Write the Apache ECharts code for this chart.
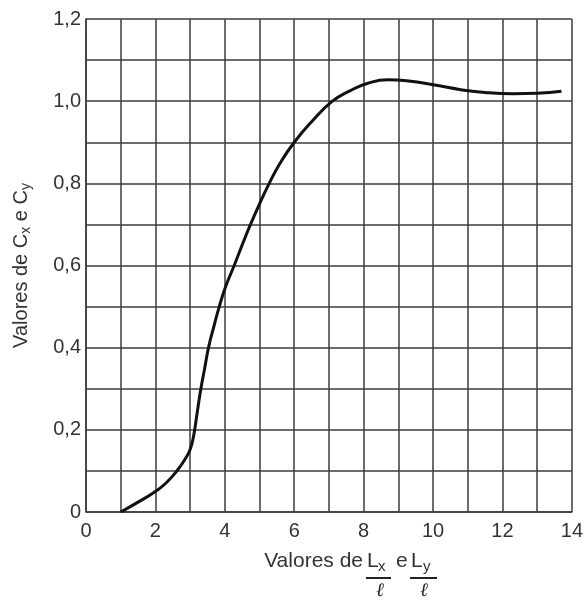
<!DOCTYPE html>
<html>
<head>
<meta charset="utf-8">
<script src="https://cdn.jsdelivr.net/npm/echarts@6/dist/echarts.min.js"></script>
<style>
  html, body { margin: 0; padding: 0; background: #fff; }
  #main { width: 586px; height: 601px; }
</style>
</head>
<body>
<div id="main"></div>
<script>
// curve: L/l ratio -> coefficient C
var ratioX = [1, 1.5, 2, 2.3, 2.6, 2.85, 3.0, 3.1, 3.2, 3.31, 3.42, 3.53, 3.68, 3.84, 4.03, 4.27, 4.5, 4.74, 5.0, 5.28, 5.6, 6.0, 6.5, 7.1, 7.6, 8.1, 8.7, 9.3, 10, 10.8, 11.5, 12.3, 13, 13.7];
var coefC  = [0, 0.024, 0.05, 0.07, 0.098, 0.128, 0.152, 0.185, 0.24, 0.3, 0.35, 0.4, 0.45, 0.5, 0.55, 0.6, 0.65, 0.7, 0.75, 0.8, 0.85, 0.9, 0.95, 1.0, 1.025, 1.043, 1.052, 1.049, 1.04, 1.028, 1.021, 1.018, 1.019, 1.024];

var xTicks = [0, 2, 4, 6, 8, 10, 12, 14];
var yTicks = ['0', '0,2', '0,4', '0,6', '0,8', '1,0', '1,2'];

var points = ratioX.map(function (x, i) { return [x, coefC[i]]; });

var gridLine = { color: '#3c3c3c', width: 1.5 };
var font = 'Liberation Sans, Arial, sans-serif';

var myChart = echarts.init(document.getElementById('main'));

option = {
    backgroundColor: '#fff',
    animation: false,
    grid: { left: 86, right: 11, top: 19, bottom: 89 },
    xAxis: {
        type: 'value',
        min: 0,
        max: 14,
        interval: 1,
        axisLine: { show: true, lineStyle: gridLine },
        axisTick: { show: false },
        splitLine: { show: true, lineStyle: gridLine },
        axisLabel: {
            margin: 9,
            fontSize: 20,
            fontFamily: font,
            color: '#333',
            formatter: function (v) {
                return xTicks.indexOf(v) >= 0 ? String(v) : '';
            }
        }
    },
    yAxis: {
        type: 'value',
        min: 0,
        max: 1.2,
        interval: 0.1,
        name: 'Valores de {c|C}{s|x} e {c|C}{s|y}',
        nameLocation: 'middle',
        nameGap: 53,
        nameTextStyle: {
            fontSize: 20,
            fontFamily: font,
            color: '#333',
            rich: {
                c: { fontSize: 20, fontFamily: font, color: '#333' },
                s: { fontSize: 14, fontFamily: font, color: '#333', padding: [9, 0, 0, 0] }
            }
        },
        axisLine: { show: true, lineStyle: gridLine },
        axisTick: { show: false },
        splitLine: { show: true, lineStyle: gridLine },
        axisLabel: {
            margin: 5,
            fontSize: 20,
            fontFamily: font,
            color: '#333',
            formatter: function (v) {
                var k = Math.round(v * 10);
                return k % 2 === 0 ? yTicks[k / 2] : '';
            }
        }
    },
    graphic: [
        { type: 'text', x: 363, y: 561, style: { text: 'Valores de', fontSize: 21, fontFamily: font, fill: '#333', align: 'right', verticalAlign: 'middle' } },
        { type: 'text', x: 367, y: 561, style: { text: 'L', fontSize: 21, fontFamily: font, fill: '#333', align: 'left', verticalAlign: 'middle' } },
        { type: 'text', x: 378, y: 567, style: { text: 'x', fontSize: 15, fontFamily: font, fill: '#333', align: 'left', verticalAlign: 'middle' } },
        { type: 'line', shape: { x1: 366, y1: 578, x2: 391, y2: 578 }, style: { stroke: '#222', lineWidth: 2 } },
        { type: 'text', x: 380, y: 591, style: { text: 'ℓ', fontSize: 19, fontFamily: 'DejaVu Serif', fontStyle: 'italic', fill: '#222', align: 'center', verticalAlign: 'middle' } },
        { type: 'text', x: 396, y: 561, style: { text: 'e', fontSize: 21, fontFamily: font, fill: '#333', align: 'left', verticalAlign: 'middle' } },
        { type: 'text', x: 411, y: 561, style: { text: 'L', fontSize: 21, fontFamily: font, fill: '#333', align: 'left', verticalAlign: 'middle' } },
        { type: 'text', x: 423, y: 567, style: { text: 'y', fontSize: 15, fontFamily: font, fill: '#333', align: 'left', verticalAlign: 'middle' } },
        { type: 'line', shape: { x1: 410, y1: 578, x2: 437, y2: 578 }, style: { stroke: '#222', lineWidth: 2 } },
        { type: 'text', x: 424, y: 591, style: { text: 'ℓ', fontSize: 19, fontFamily: 'DejaVu Serif', fontStyle: 'italic', fill: '#222', align: 'center', verticalAlign: 'middle' } }
    ],
    series: [{
        type: 'line',
        data: points,
        smooth: 0.5,
        showSymbol: false,
        lineStyle: { color: '#111', width: 3 }
    }]
};
myChart.setOption(option);
</script>
</body>
</html>
